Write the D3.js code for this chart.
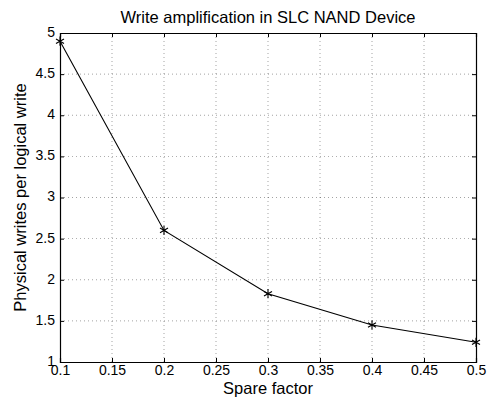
<!DOCTYPE html>
<html lang="en">
<head>
<meta charset="utf-8">
<title>Write amplification</title>
<script src="https://d3js.org/d3.v7.min.js"></script>
<style>
    body { margin: 0; background: #fff; }
    svg { display: block; font-family: "Liberation Sans", Arial, sans-serif; }
    .grid line { stroke: #000; stroke-width: 0.6; stroke-dasharray: 1, 3; opacity: 0.6; }
</style>
</head>
<body>
<script>
    // data
    var spareFactor = [0.1, 0.2, 0.3, 0.4, 0.5];
    var writesPerLogical = [4.9, 2.6, 1.83, 1.45, 1.24];
    var xTicks = [0.1, 0.15, 0.2, 0.25, 0.3, 0.35, 0.4, 0.45, 0.5];
    var yTicks = [1, 1.5, 2, 2.5, 3, 3.5, 4, 4.5, 5];

    var width = 490, height = 398;
    var margin = { top: 33, right: 14, bottom: 36, left: 60 };
    var w = width - margin.left - margin.right;
    var h = height - margin.top - margin.bottom;

    var svg = d3.select("body").append("svg")
        .attr("width", width)
        .attr("height", height);

    var g = svg.append("g")
        .attr("transform", "translate(" + margin.left + "," + margin.top + ")");

    var x = d3.scaleLinear().domain([0.1, 0.5]).range([0, w]);
    var y = d3.scaleLinear().domain([1, 5]).range([h, 0]);

    // dotted grid
    var grid = g.append("g").attr("class", "grid");
    grid.selectAll(".vx")
        .data(xTicks.slice(1, -1))
        .enter().append("line")
        .attr("x1", function (d) { return x(d); })
        .attr("x2", function (d) { return x(d); })
        .attr("y1", 0).attr("y2", h);
    grid.selectAll(".hy")
        .data(yTicks.slice(1, -1))
        .enter().append("line")
        .attr("y1", function (d) { return y(d); })
        .attr("y2", function (d) { return y(d); })
        .attr("x1", 0).attr("x2", w);

    var fmt = function (d) { return String(d); };

    // axes with inward ticks, matlab style
    var xAxis = g.append("g")
        .attr("transform", "translate(0," + h + ")")
        .call(d3.axisBottom(x).tickValues(xTicks).tickFormat(fmt).tickSize(-4).tickPadding(4));
    var yAxis = g.append("g")
        .call(d3.axisLeft(y).tickValues(yTicks).tickFormat(fmt).tickSize(-4).tickPadding(5));
    g.append("g")
        .call(d3.axisTop(x).tickValues(xTicks).tickFormat("").tickSize(-4));
    g.append("g")
        .attr("transform", "translate(" + w + ",0)")
        .call(d3.axisRight(y).tickValues(yTicks).tickFormat("").tickSize(-4));

    g.selectAll(".domain").attr("stroke", "#000").attr("stroke-width", 1.2);
    g.selectAll(".tick line").attr("stroke", "#000");
    g.selectAll(".tick text")
        .attr("fill", "#000")
        .style("font-size", "14px")
        .style("font-family", "Liberation Sans, Arial, sans-serif");
    xAxis.selectAll(".tick text").attr("dy", "0.62em");
    yAxis.selectAll(".tick text").attr("dy", "0.24em");

    // line
    var pts = spareFactor.map(function (d, i) { return [d, writesPerLogical[i]]; });
    g.append("path")
        .datum(pts)
        .attr("fill", "none")
        .attr("stroke", "#000")
        .attr("stroke-width", 1.1)
        .attr("d", d3.line()
            .x(function (d) { return x(d[0]); })
            .y(function (d) { return y(d[1]); }));

    // asterisk markers
    var star = d3.symbol().type(d3.symbolAsterisk).size(60);
    g.selectAll(".mk")
        .data(pts)
        .enter().append("path")
        .attr("d", star)
        .attr("transform", function (d) { return "translate(" + x(d[0]) + "," + y(d[1]) + ")"; })
        .attr("fill", "none")
        .attr("stroke", "#000")
        .attr("stroke-width", 1.1);

    // labels
    svg.append("text")
        .attr("x", margin.left + w / 2)
        .attr("y", 23)
        .attr("text-anchor", "middle")
        .style("font-size", "16.5px")
        .text("Write amplification in SLC NAND Device");

    svg.append("text")
        .attr("x", margin.left + w / 2)
        .attr("y", 394)
        .attr("text-anchor", "middle")
        .style("font-size", "16.5px")
        .text("Spare factor");

    svg.append("text")
        .attr("transform", "translate(26," + (margin.top + h / 2) + ") rotate(-90)")
        .attr("text-anchor", "middle")
        .style("font-size", "16.5px")
        .text("Physical writes per logical write");
</script>
</body>
</html>
